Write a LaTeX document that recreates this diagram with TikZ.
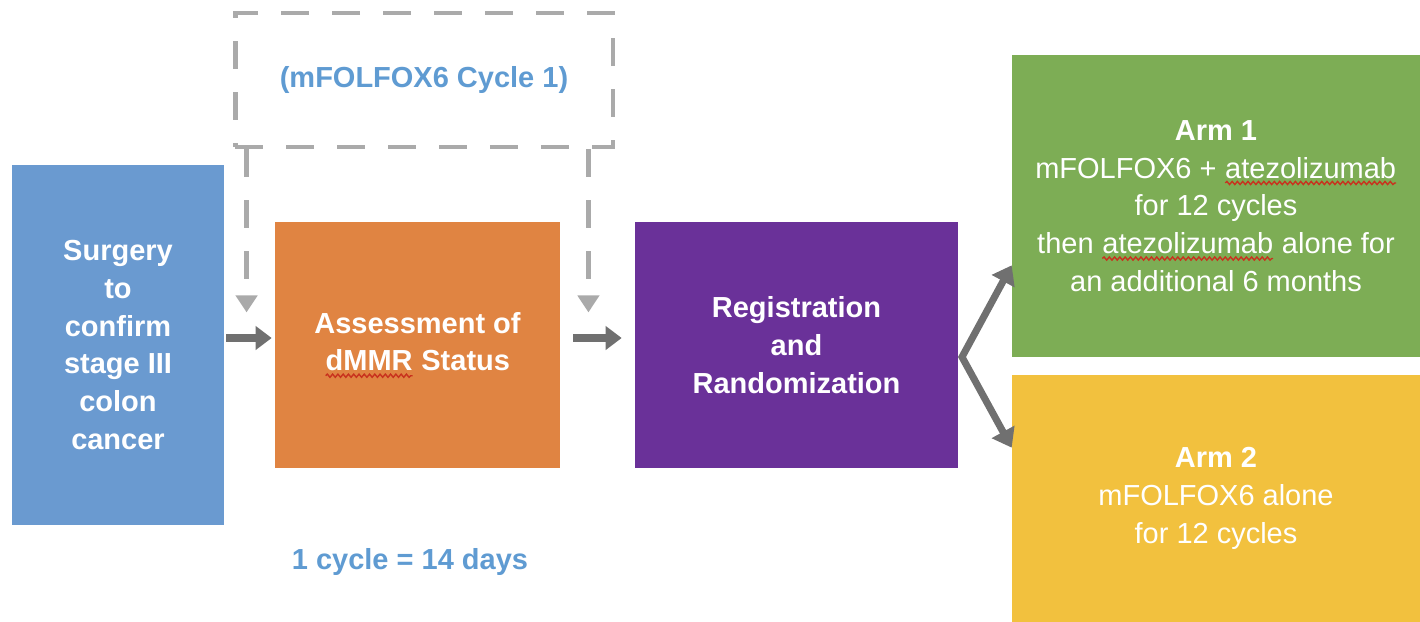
\documentclass[tikz,border=0pt]{standalone}
\usepackage{fontspec}
\setmainfont{Liberation Sans}
\usetikzlibrary{arrows.meta,decorations.pathmorphing}
\definecolor{surgblue}{HTML}{6A9AD0}
\definecolor{assessorange}{HTML}{E08442}
\definecolor{registpurple}{HTML}{6A3199}
\definecolor{armgreen}{HTML}{7DAD55}
\definecolor{armyellow}{HTML}{F2C13E}
\definecolor{flowgray}{HTML}{707070}
\definecolor{dashgray}{HTML}{AAAAAA}
\definecolor{cycleblue}{HTML}{5F9BD2}
\definecolor{spellred}{HTML}{C8321E}
\newcommand\boxfont{\fontsize{16.5}{21.5}\selectfont}
\newcommand\spellwave[1]{\tikz[baseline=(sw.base)]{\node[inner sep=0pt,outer sep=0pt,minimum size=0pt,
    fill=none,draw=none,shape=rectangle] (sw) {#1};
  \draw[spellred,line width=0.8pt,decorate,decoration={snake,amplitude=0.9pt,segment length=3pt}]
    ([yshift=-2.8pt]sw.base west) -- ([yshift=-2.8pt]sw.base east);}}
\begin{document}
\begin{tikzpicture}[x=0.02cm,y=-0.02cm,
  box/.style={fill=#1,text=white,align=center,inner sep=0pt,font=\boxfont\bfseries},
  armbox/.style={fill=#1,text=white,align=center,inner sep=0pt,font=\boxfont},
  flow/.style={draw=flowgray,line width=4.5pt,-{Triangle[length=0.32cm,width=0.46cm]}},
  forkflow/.style={draw=flowgray,line width=4pt,
    {Triangle[length=0.36cm,width=0.5cm]}-{Triangle[length=0.36cm,width=0.5cm]}},
  dashbox/.style={draw=dashgray,line width=2.8pt,dash pattern=on 0.56cm off 0.46cm,
    inner sep=0pt,text=cycleblue,font=\boxfont\bfseries},
  dashflow/.style={draw=dashgray,line width=2.8pt,dash pattern=on 0.56cm off 0.46cm,
    -{Triangle[length=0.34cm,width=0.42cm]}}]
  \useasboundingbox (0,0) rectangle (1420,622);
  \node[box=surgblue,minimum width=4.24cm,minimum height=7.2cm] (surg) at (118,345)
    {Surgery\\to\\confirm\\stage III\\colon\\cancer};
  \node[box=assessorange,minimum width=5.7cm,minimum height=4.92cm] (assess) at (417.5,345)
    {Assessment of\\\spellwave{dMMR} Status};
  \node[box=registpurple,minimum width=6.46cm,minimum height=4.92cm] (regist) at (796.5,345)
    {Registration\\and\\Randomization};
  \node[armbox=armgreen,minimum width=8.16cm,minimum height=6.04cm] (arm1) at (1216,206)
    {\textbf{Arm 1}\\mFOLFOX6 + \spellwave{atezolizumab}\\for 12 cycles\\
     then \spellwave{atezolizumab} alone for\\an additional 6 months};
  \node[armbox=armyellow,minimum width=8.16cm,minimum height=4.94cm] (arm2) at (1216,498.5)
    {\textbf{Arm 2}\\mFOLFOX6 alone\\for 12 cycles};
  \node[dashbox,minimum width=7.56cm,minimum height=2.68cm] (cycle) at (424,80)
    {(mFOLFOX6 Cycle 1)};
  \node[text=cycleblue,font=\boxfont\bfseries] (note) at (410,562) {1 cycle = 14 days};
  \coordinate (fork) at (962,357);
  \draw[flow] ([xshift=0.04cm,yshift=0.14cm]surg.east) -- ([xshift=-0.06cm,yshift=0.14cm]assess.west);
  \draw[flow] ([xshift=0.26cm,yshift=0.14cm]assess.east) -- ([xshift=-0.26cm,yshift=0.14cm]regist.west);
  \draw[forkflow] ([yshift=1.84cm]arm1.south west) -- (fork) -- ([yshift=-1.46cm]arm2.north west);
  \draw[dashflow] ([xshift=0.28cm]cycle.south west) -- ++(0,163);
  \draw[dashflow] ([xshift=-0.54cm]cycle.south east) -- ++(0,163);
\end{tikzpicture}
\end{document}
